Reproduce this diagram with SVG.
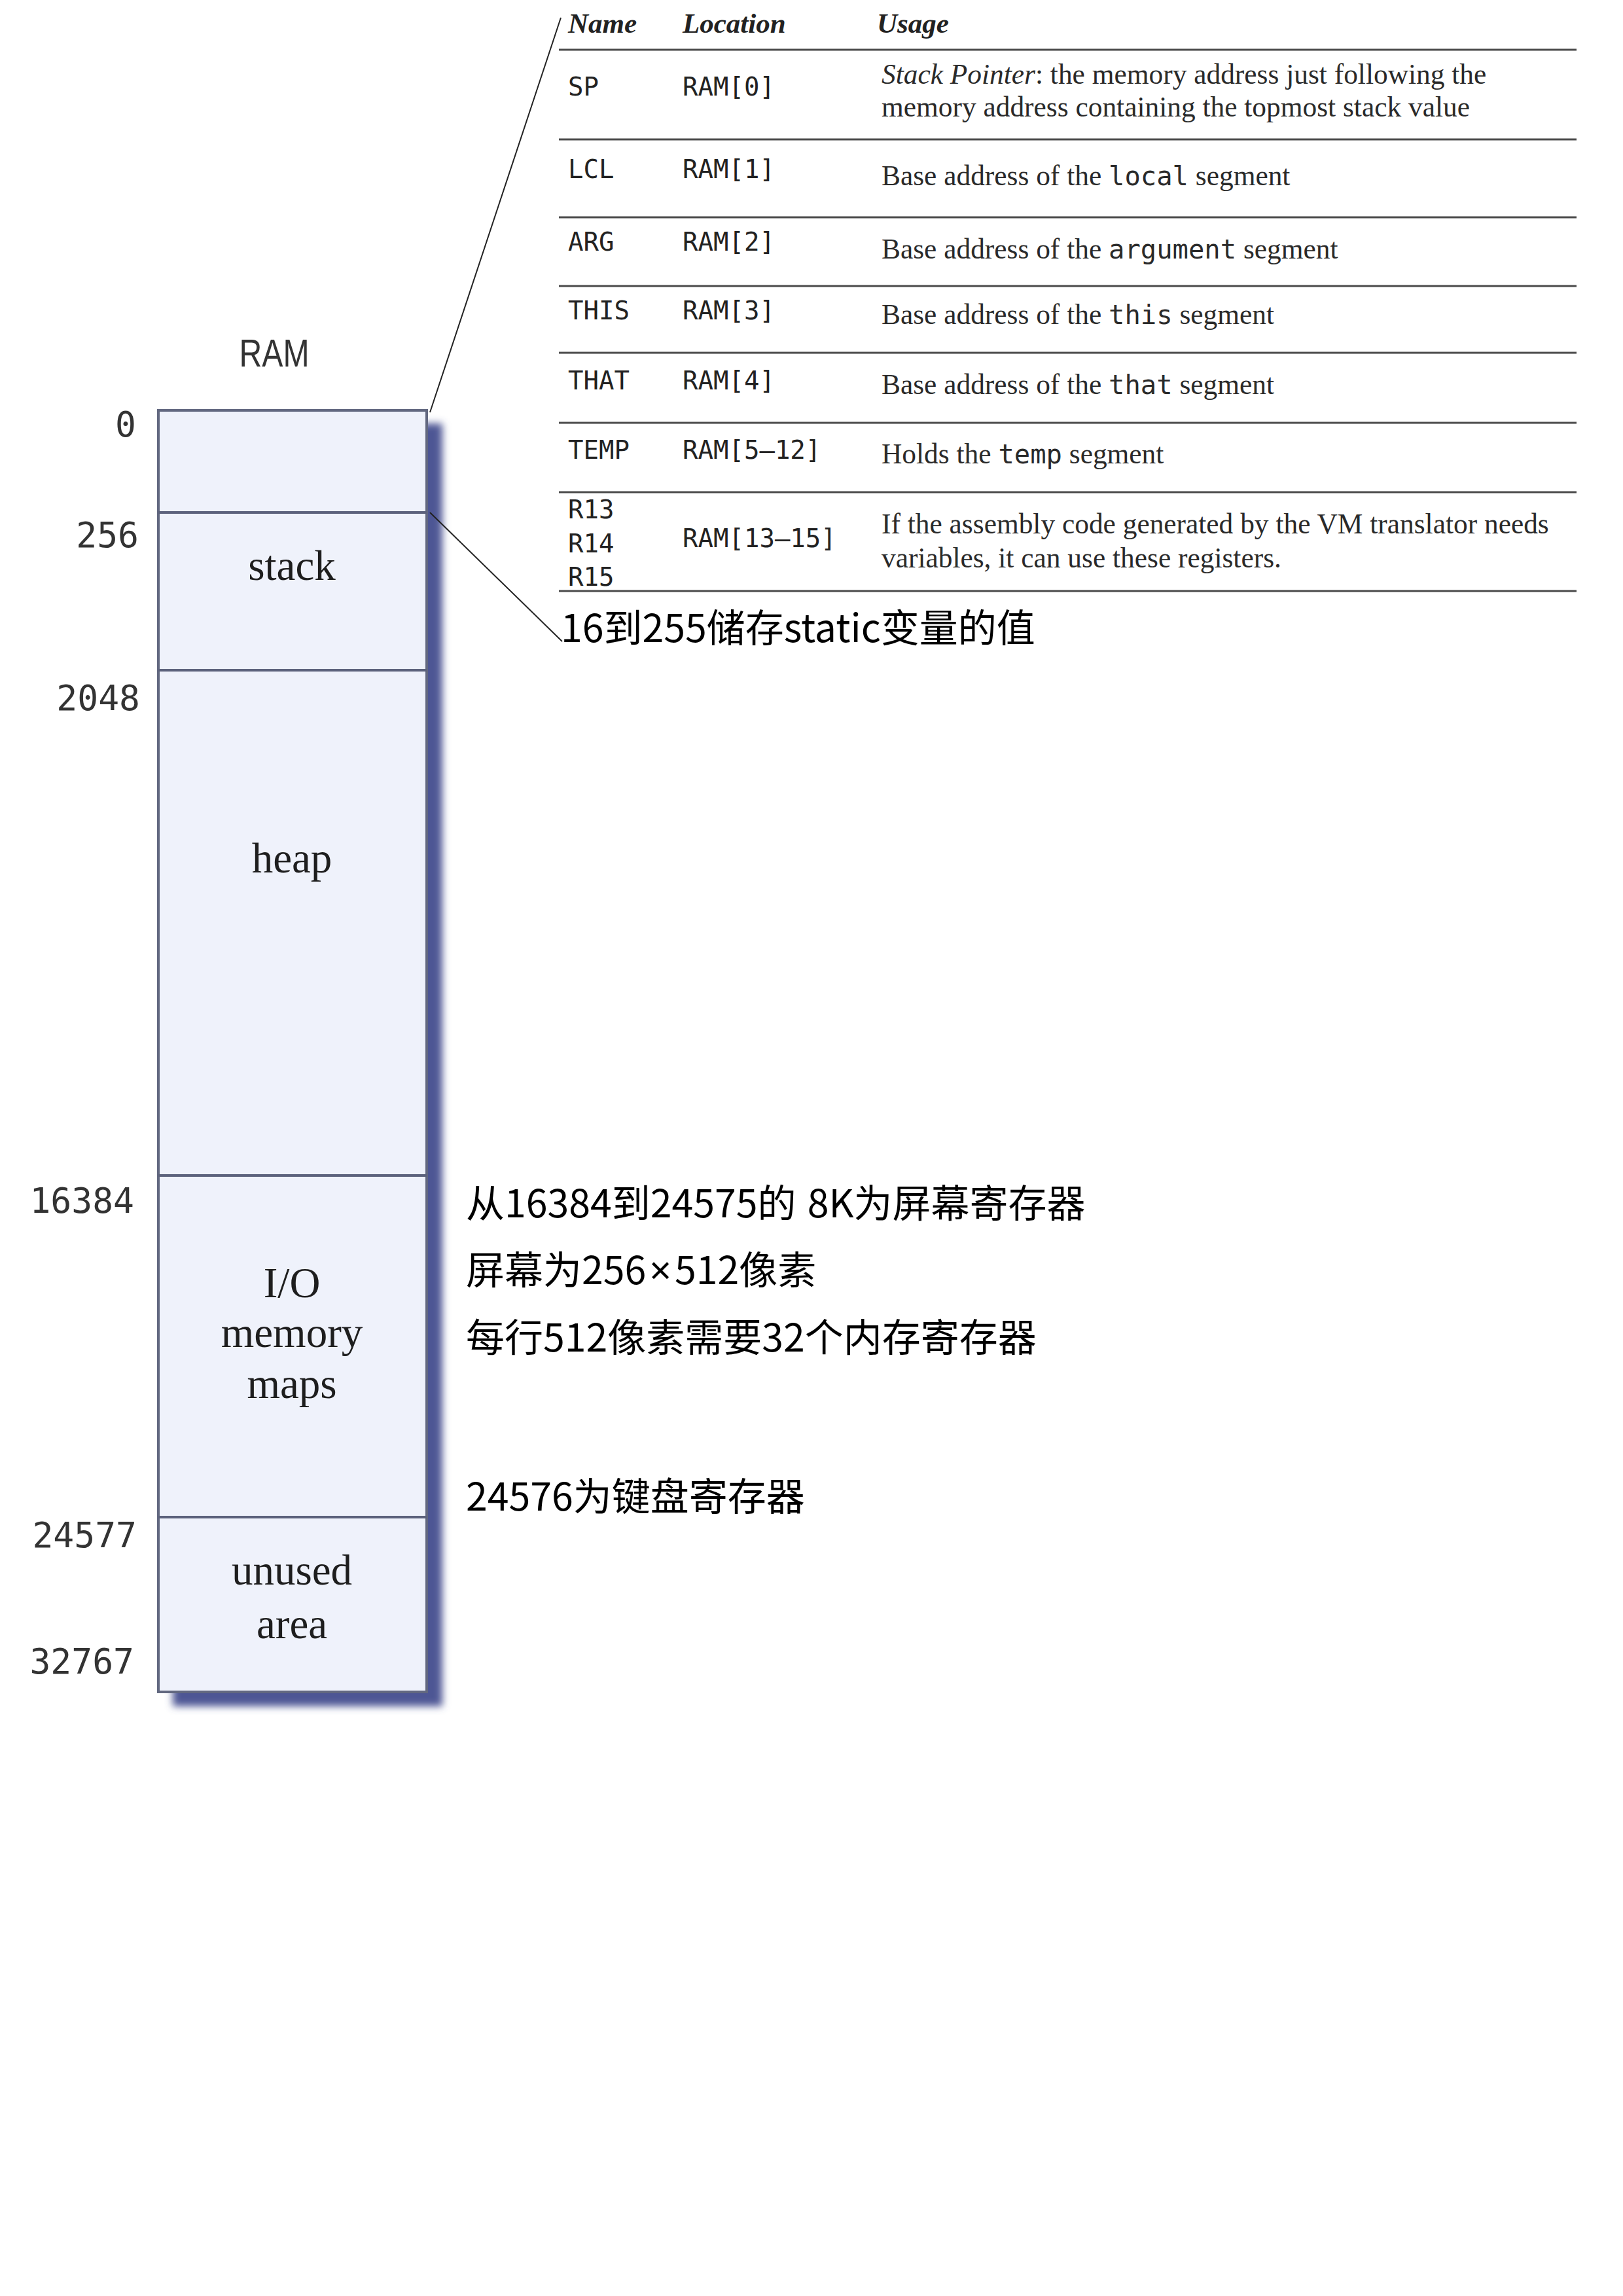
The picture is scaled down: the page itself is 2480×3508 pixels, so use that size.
<svg xmlns="http://www.w3.org/2000/svg" width="2480" height="3508" viewBox="0 0 2480 3508">
<style>
.num{font-family:"DejaVu Sans Mono","Liberation Mono",monospace;font-size:53px;fill:#333;text-anchor:end}
.seg{font-family:"Liberation Serif",serif;font-size:65px;fill:#1e1e1e;text-anchor:middle}
.th{font-family:"Liberation Serif",serif;font-style:italic;font-weight:bold;font-size:43px;fill:#222}
.mono{font-family:"DejaVu Sans Mono","Liberation Mono",monospace;font-size:39px;fill:#222}
.use{font-family:"Liberation Serif",serif;font-size:43.4px;fill:#2a2a2a}
.code{font-family:"DejaVu Sans Mono","Liberation Mono",monospace;font-size:40.5px}
.cn{font-family:"Noto Sans CJK SC","Noto Sans",sans-serif;font-size:59px;fill:#000}
.rule{stroke:#4a4a4a;stroke-width:3}
.div{stroke:#5c627c;stroke-width:4}
.conn{stroke:#222;stroke-width:2;fill:none}
</style>
<defs>
<filter id="shadow" x="-20%" y="-5%" width="140%" height="110%">
<feGaussianBlur stdDeviation="6"/>
</filter>
</defs>
<rect x="0" y="0" width="2480" height="3508" fill="#ffffff"/>

<g id="ram-title">
<text x="419" y="560" text-anchor="middle" font-family="Liberation Sans, Arial, sans-serif" font-size="60" fill="#333" textLength="107" lengthAdjust="spacingAndGlyphs">RAM</text>
</g>

<g id="ram-block">
<rect x="264" y="647" width="412" height="1960" fill="#4d5794" filter="url(#shadow)"/>
<rect x="242" y="627" width="410" height="1958" fill="#eff2fb" stroke="#626880" stroke-width="4"/>
<line class="div" x1="242" y1="783" x2="652" y2="783"/>
<line class="div" x1="242" y1="1024" x2="652" y2="1024"/>
<line class="div" x1="242" y1="1796" x2="652" y2="1796"/>
<line class="div" x1="242" y1="2318" x2="652" y2="2318" stroke="#454b66"/>
</g>

<g id="seg-stack"><text class="seg" x="446" y="886">stack</text></g>
<g id="seg-heap"><text class="seg" x="446" y="1333" font-size="67">heap</text></g>
<g id="seg-io">
<text class="seg" x="446" y="1982">I/O</text>
<text class="seg" x="446" y="2058">memory</text>
<text class="seg" x="446" y="2136">maps</text>
</g>
<g id="seg-unused">
<text class="seg" x="446" y="2421">unused</text>
<text class="seg" x="446" y="2503">area</text>
</g>

<g id="addresses">
<text class="num" x="208" y="667">0</text>
<text class="num" x="212" y="836">256</text>
<text class="num" x="214" y="1085">2048</text>
<text class="num" x="205" y="1853">16384</text>
<text class="num" x="209" y="2364">24577</text>
<text class="num" x="205" y="2557">32767</text>
</g>

<g id="connectors">
<line class="conn" x1="657" y1="630" x2="857" y2="27"/>
<line class="conn" x1="657" y1="783" x2="859" y2="980"/>
</g>

<g id="register-table">
<text class="th" x="868" y="50">Name</text>
<text class="th" x="1043" y="50">Location</text>
<text class="th" x="1340" y="50">Usage</text>
<line class="rule" x1="854" y1="76" x2="2409" y2="76"/>

<text class="mono" x="868" y="146">SP</text>
<text class="mono" x="1043" y="146">RAM[0]</text>
<text class="use" x="1347" y="128"><tspan font-style="italic">Stack Pointer</tspan>: the memory address just following the</text>
<text class="use" x="1347" y="178">memory address containing the topmost stack value</text>
<line class="rule" x1="854" y1="213" x2="2409" y2="213"/>

<text class="mono" x="868" y="272">LCL</text>
<text class="mono" x="1043" y="272">RAM[1]</text>
<text class="use" x="1347" y="283">Base address of the <tspan class="code">local</tspan> segment</text>
<line class="rule" x1="854" y1="332" x2="2409" y2="332"/>

<text class="mono" x="868" y="383">ARG</text>
<text class="mono" x="1043" y="383">RAM[2]</text>
<text class="use" x="1347" y="395">Base address of the <tspan class="code">argument</tspan> segment</text>
<line class="rule" x1="854" y1="437" x2="2409" y2="437"/>

<text class="mono" x="868" y="488">THIS</text>
<text class="mono" x="1043" y="488">RAM[3]</text>
<text class="use" x="1347" y="495">Base address of the <tspan class="code">this</tspan> segment</text>
<line class="rule" x1="854" y1="539" x2="2409" y2="539"/>

<text class="mono" x="868" y="595">THAT</text>
<text class="mono" x="1043" y="595">RAM[4]</text>
<text class="use" x="1347" y="602">Base address of the <tspan class="code">that</tspan> segment</text>
<line class="rule" x1="854" y1="646" x2="2409" y2="646"/>

<text class="mono" x="868" y="701">TEMP</text>
<text class="mono" x="1043" y="701">RAM[5–12]</text>
<text class="use" x="1347" y="708">Holds the <tspan class="code">temp</tspan> segment</text>
<line class="rule" x1="854" y1="752" x2="2409" y2="752"/>

<text class="mono" x="868" y="792">R13</text>
<text class="mono" x="868" y="844">R14</text>
<text class="mono" x="868" y="895">R15</text>
<text class="mono" x="1043" y="836">RAM[13–15]</text>
<text class="use" x="1347" y="815">If the assembly code generated by the VM translator needs</text>
<text class="use" x="1347" y="867">variables, it can use these registers.</text>
<line class="rule" x1="854" y1="903" x2="2409" y2="903"/>
</g>

<g id="note-static">
<text class="cn" x="857" y="981">16到255储存static变量的值</text>
</g>

<g id="notes-io">
<text class="cn" x="712" y="1860" word-spacing="4">从16384到24575的 8K为屏幕寄存器</text>
<text class="cn" x="712" y="1962">屏幕为256<tspan font-family="Noto Sans, sans-serif" dx="5">×</tspan><tspan dx="5">512像素</tspan></text>
<text class="cn" x="712" y="2065">每行512像素需要32个内存寄存器</text>
<text class="cn" x="712" y="2308">24576为键盘寄存器</text>
</g>
</svg>
